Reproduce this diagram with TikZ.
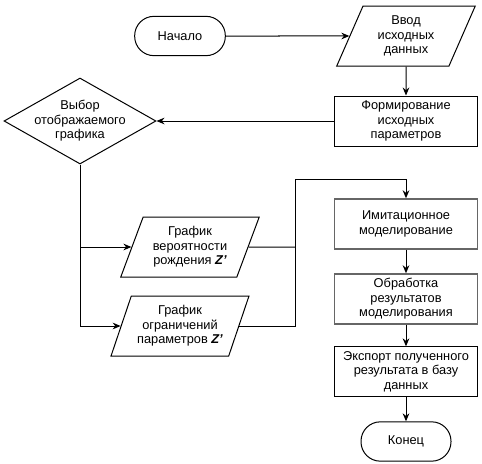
\documentclass[tikz,border=0pt]{standalone}
\usepackage{fontspec}
\setmainfont{Liberation Sans}
\usetikzlibrary{shapes.geometric,arrows.meta}

\begin{document}
\begin{tikzpicture}[x=0.75pt,y=-0.75pt,
    font=\fontsize{9.6}{10.8}\selectfont,
    line width=0.75pt,
    >={Stealth[length=6pt,width=5pt]},
    terminal/.style={draw, rounded corners=14.5pt, minimum height=29.5pt, align=center},
    procbox/.style={draw, minimum width=107pt, minimum height=37.5pt, align=center},
    greybox/.style={procbox, draw=black!60, line width=1.1pt},
    iobox/.style={draw, trapezium, trapezium left angle=67, trapezium right angle=113,
        trapezium stretches=true, minimum width=104pt, minimum height=45pt, align=center, inner sep=1pt},
    choicebox/.style={draw, diamond, aspect=1.77, inner sep=-2.5pt, minimum width=114pt, minimum height=64.5pt, align=center}]
    \useasboundingbox (0,0) rectangle (482,464);

    % Top row
    \node[terminal, minimum width=68pt] (start) at (180,36) {Начало};
    \node[iobox] (input) at (406,36) {Ввод\\исходных\\данных};
    \node[procbox] (form) at (406,121) {Формирование\\исходных\\параметров};
    \node[choicebox] (choice) at (80,121) {Выбор\\отображаемого\\графика};

    % Chart outputs
    \node[iobox] (probplot) at (190,247) {График\\вероятности\\рождения \textbf{\textit{Z'}}};
    \node[iobox] (limplot) at (180,326) {График\\ограничений\\параметров \textbf{\textit{Z'}}};

    % Right column
    \node[greybox] (imit) at (406,224) {Имитационное\\моделирование};
    \node[greybox] (proc) at (406,299) {Обработка\\результатов\\моделирования};
    \node[procbox, minimum height=37pt] (export) at (406,371.5) {Экспорт полученного\\результата в базу\\данных};
    \node[terminal, minimum width=67.5pt] (finish) at (406,441.5) {Конец};

    \coordinate (merge) at (295,179);

    % Connectors
    \draw[->] (start) -- (input);
    \draw[->] (input) -- (form);
    \draw[->] (form) -- (choice);
    \draw[->] (choice.south) |- (probplot);
    \draw[->] (choice.south) |- (limplot);
    \draw (probplot) -- (probplot -| merge);
    \draw (limplot) -| (merge);
    \draw[->] (merge) -| (imit.north);
    \draw[->] (imit) -- (proc);
    \draw[->] (proc) -- (export);
    \draw[->] (export) -- (finish);
\end{tikzpicture}
\end{document}
